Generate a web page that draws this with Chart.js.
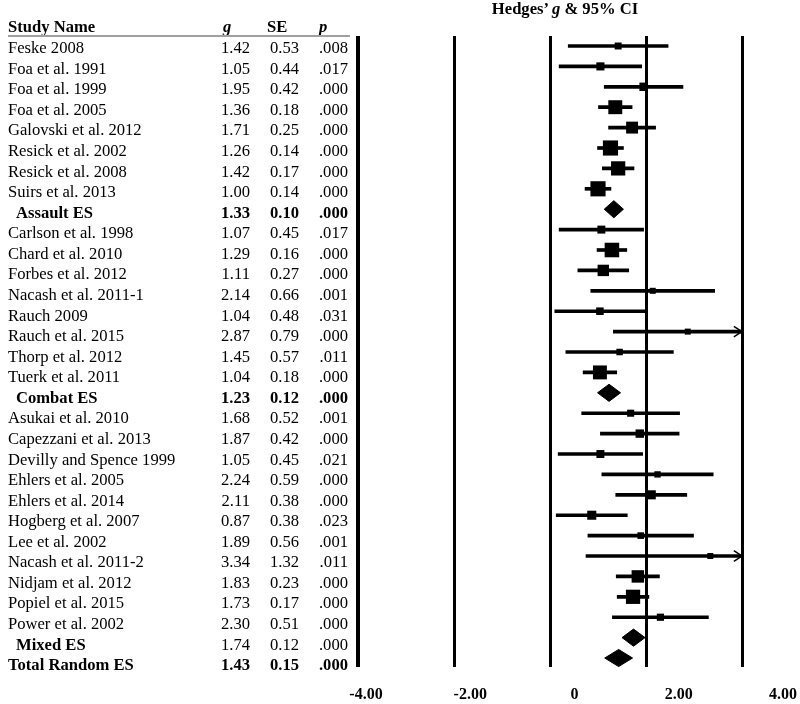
<!DOCTYPE html>
<html><head><meta charset="utf-8">
<script src="https://cdn.jsdelivr.net/npm/chart.js@4/dist/chart.umd.min.js"></script>
<style>
html,body{margin:0;padding:0;background:#fff;}
#wrap{position:relative;width:800px;height:704px;font-family:'Liberation Serif','Times New Roman',serif;color:#000;overflow:hidden;}
#c{position:absolute;left:0;top:0;}
.t{position:absolute;font-size:16.6px;line-height:20.57px;height:20.57px;white-space:nowrap;}
.b{font-weight:bold;}
</style></head><body>
<div id="wrap"><canvas id="c" width="800" height="704"></canvas><div id="tbl"></div></div>
<script>
// ---- data ----
const studyNames = ["Feske 2008","Foa et al. 1991","Foa et al. 1999","Foa et al. 2005","Galovski et al. 2012","Resick et al. 2002","Resick et al. 2008","Suirs et al. 2013","Assault ES",
  "Carlson et al. 1998","Chard et al. 2010","Forbes et al. 2012","Nacash et al. 2011-1","Rauch 2009","Rauch et al. 2015","Thorp et al. 2012","Tuerk et al. 2011","Combat ES",
  "Asukai et al. 2010","Capezzani et al. 2013","Devilly and Spence 1999","Ehlers et al. 2005","Ehlers et al. 2014","Hogberg et al. 2007","Lee et al. 2002","Nacash et al. 2011-2","Nidjam et al. 2012","Popiel et al. 2015","Power et al. 2002","Mixed ES",
  "Total Random ES"];
const hedgesG = [1.42,1.05,1.95,1.36,1.71,1.26,1.42,1.00,1.33,
  1.07,1.29,1.11,2.14,1.04,2.87,1.45,1.04,1.23,
  1.68,1.87,1.05,2.24,2.11,0.87,1.89,3.34,1.83,1.73,2.30,1.74,
  1.43];
const stdErr = [0.53,0.44,0.42,0.18,0.25,0.14,0.17,0.14,0.10,
  0.45,0.16,0.27,0.66,0.48,0.79,0.57,0.18,0.12,
  0.52,0.42,0.45,0.59,0.38,0.38,0.56,1.32,0.23,0.17,0.51,0.12,
  0.15];
const pValues = [".008",".017",".000",".000",".000",".000",".000",".000",".000",
  ".017",".000",".000",".001",".031",".000",".011",".000",".000",
  ".001",".000",".021",".000",".000",".023",".001",".011",".000",".000",".000",".000",
  ".000"];
const ciLower = [0.38,0.19,1.13,1.01,1.22,0.99,1.09,0.73,1.13,
  0.19,0.98,0.58,0.85,0.10,1.32,0.33,0.69,0.99,
  0.66,1.05,0.17,1.08,1.37,0.13,0.79,0.75,1.38,1.40,1.30,1.50,
  1.14];
const ciUpper = [2.46,1.91,2.77,1.71,2.20,1.53,1.75,1.27,1.53,
  1.95,1.60,1.64,3.43,1.98,4.42,2.57,1.39,1.47,
  2.70,2.69,1.93,3.40,2.85,1.61,2.99,5.93,2.28,2.06,3.30,1.98,
  1.72];
const rowKinds = ["study","study","study","study","study","study","study","study","subgroup",
  "study","study","study","study","study","study","study","study","subgroup",
  "study","study","study","study","study","study","study","study","study","study","study","subgroup",
  "total"];
const xTickValues = [-4,-2,0,2,4];
const plotTitle = "Hedges\u2019 <i>g</i> &amp; 95% CI";

// ---- table text (HTML) ----
const tbl = document.getElementById('tbl');
function put(html, cls, css){
  const s = document.createElement('span');
  s.className = 't ' + (cls||'');
  s.innerHTML = html;
  Object.assign(s.style, css);
  tbl.appendChild(s);
}
const ROW0 = 38.1, ROWH = 20.57;
put('Study Name','b',{left:'8px',top:'17.1px'});
put('<i>g</i>','b',{left:'223px',top:'17.1px'});
put('SE','b',{left:'267px',top:'17.1px'});
put('<i>p</i>','b',{left:'319px',top:'17.1px'});
const rule = document.createElement('div');
Object.assign(rule.style,{position:'absolute',left:'8px',top:'35px',width:'342px',height:'2px',background:'#a0a0a0'});
tbl.appendChild(rule);
put(plotTitle,'b',{left:'445px',width:'240px',textAlign:'center',top:'-1px'});
const plainStatRows = new Set(['Mixed ES']);
studyNames.forEach((name,i)=>{
  const top = (ROW0 + i*ROWH) + 'px';
  const kind = rowKinds[i];
  const nameBold = kind !== 'study';
  const statBold = kind !== 'study' && !plainStatRows.has(name);
  put(name, nameBold?'b':'', {left:(kind==='subgroup'?16:8)+'px', top});
  put(hedgesG[i].toFixed(2), statBold?'b':'', {right:(800-250)+'px', top});
  put(stdErr[i].toFixed(2), statBold?'b':'', {right:(800-299)+'px', top});
  put(pValues[i], statBold?'b':'', {right:(800-348)+'px', top});
});

// ---- chart ----
const X_MIN = -4, X_MAX = 4;
const ciData = [], markerData = [], datasets = [];
rowKinds.forEach((k,i)=>{
  if(k==='study'){
    ciData.push({y:i, x:[ciLower[i], Math.min(ciUpper[i], X_MAX)]});
    markerData.push({x:hedgesG[i], y:i, se:stdErr[i]});
    if(ciUpper[i] > X_MAX){
      datasets.push({type:'line', data:[{x:X_MAX-0.17,y:i-0.26},{x:X_MAX,y:i},{x:X_MAX-0.17,y:i+0.26}],
        borderColor:'#000', borderWidth:1.5, pointRadius:0, fill:false, clip:false, order:0});
    }
  } else {
    const h = 0.42;
    datasets.push({type:'line', data:[{x:ciLower[i],y:i},{x:hedgesG[i],y:i-h},{x:ciUpper[i],y:i},{x:hedgesG[i],y:i+h},{x:ciLower[i],y:i}],
      borderColor:'#000', backgroundColor:'#000', borderWidth:1, pointRadius:0, fill:'shape', tension:0, order:1});
  }
});
datasets.push({type:'bar', indexAxis:'y', data:ciData, backgroundColor:'#000', borderWidth:0, barThickness:3, grouped:false, order:3});
datasets.push({type:'scatter', data:markerData, pointStyle:'rect', backgroundColor:'#000', borderColor:'#000', borderWidth:0,
  pointRadius: c => { const se = c.raw ? c.raw.se : 0.3; const side = Math.max(6, 4/Math.sqrt(se*se+0.05)); return side/Math.SQRT2; },
  order:2});

function fixBox(h){
  return s => { s.height = h; s.paddingLeft = 0; s.paddingRight = 0; s.paddingTop = 0; s.paddingBottom = 0; };
}
const serif = "'Liberation Serif','Times New Roman',serif";
new Chart(document.getElementById('c'), {
  type:'scatter',
  data:{datasets},
  options:{
    responsive:false, animation:false, events:[],
    layout:{padding:{left:358,right:58,top:36,bottom:0}},
    plugins:{legend:{display:false}, tooltip:{enabled:false}, title:{display:false}},
    scales:{
      x:{type:'linear', position:'bottom', min:X_MIN, max:X_MAX, offset:false,
        afterBuildTicks: s => { s.ticks = xTickValues.map(v=>({value:v})); },
        afterFit: fixBox(0),
        ticks:{display:false},
        grid:{color:'#000', lineWidth: c => c.index===0 ? 4 : 3, drawTicks:false, offset:false},
        border:{display:false}},
      x2:{type:'linear', position:'bottom', min:-4.1535, max:3.2132, offset:false,
        afterBuildTicks: s => { s.ticks = xTickValues.map(v=>({value:v})); },
        afterFit: fixBox(37),
        grid:{display:false}, border:{display:false},
        ticks:{autoSkip:false, maxRotation:0, padding:10, color:'#000',
          font:{family:serif, size:16, weight:'bold'},
          callback: v => v===0 ? '0' : v.toFixed(2)}},
      y:{type:'linear', reverse:true, min:-0.49, max:30.44, offset:false, display:false, grid:{offset:false}}
    }
  }
});
</script>
</body></html>
